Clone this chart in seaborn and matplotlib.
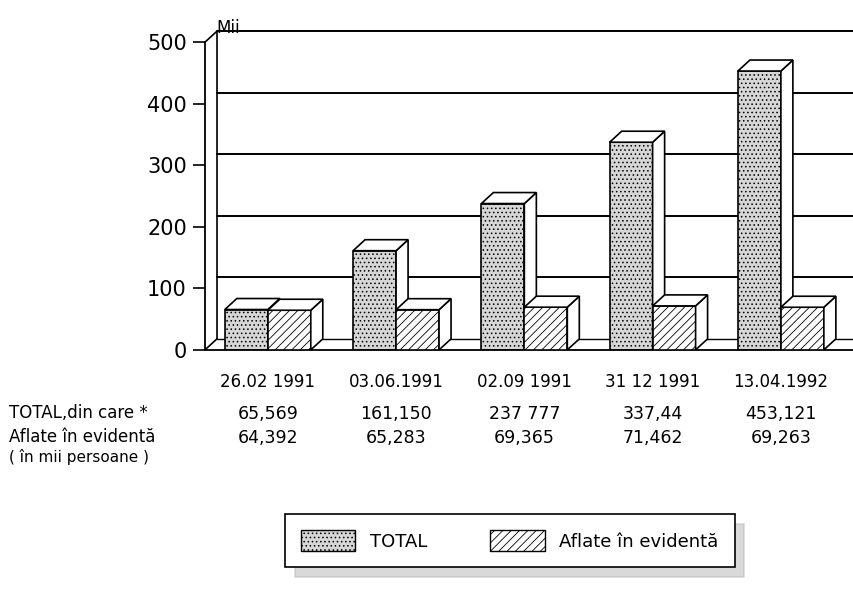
import numpy as np
import pandas as pd
import seaborn as sns
import matplotlib.pyplot as plt
from matplotlib.patches import Polygon, Patch

sns.set_theme(style="white")
plt.rcParams["font.family"] = ["DejaVu Sans"]
plt.rcParams["text.color"] = "black"
plt.rcParams["hatch.linewidth"] = 0.6

# ---------------------------------------------------------------------------
# data (thousands of persons)
# ---------------------------------------------------------------------------
dates = ["26.02 1991", "03.06.1991", "02.09 1991", "31 12 1991", "13.04.1992"]
total = [65.569, 161.150, 237.777, 337.44, 453.121]
aflate = [64.392, 65.283, 69.365, 71.462, 69.263]
total_txt = ["65,569", "161,150", "237 777", "337,44", "453,121"]
aflate_txt = ["64,392", "65,283", "69,365", "71,462", "69,263"]
series = ["TOTAL", "Aflate în evidentă"]
yticks = [0, 100, 200, 300, 400, 500]

df = pd.DataFrame({
    "data": dates * 2,
    "mii": total + aflate,
    "serie": [series[0]] * len(dates) + [series[1]] * len(dates),
})

# ---------------------------------------------------------------------------
# figure
# ---------------------------------------------------------------------------
fig = plt.figure(figsize=(8.54, 5.93), dpi=100)
ax = fig.add_axes([0.240, 0.410, 0.760, 0.5396])

sns.barplot(
    data=df, x="data", y="mii", hue="serie", ax=ax,
    palette={series[0]: "#d6d6d6", series[1]: "white"},
    width=0.67, edgecolor="black", linewidth=1.2, legend=False,
)

xmin, xmax = -0.49, 4.57
ymin, ymax = 0, 520
ax.set_xlim(xmin, xmax)
ax.set_ylim(ymin, ymax)

# depth of the pseudo-3D look, 12 px right / 11 px up
dx = 12 * (xmax - xmin) / ax.bbox.width
dy = 11 * (ymax - ymin) / ax.bbox.height

# back wall grid, wall edge and floor
for v in yticks[1:]:
    ax.plot([xmin + dx, xmax], [v + dy, v + dy], color="black", lw=1.4,
            zorder=1, clip_on=False)
ax.plot([xmin + dx, xmax], [dy, dy], color="black", lw=1.0, zorder=1)
ax.plot([xmin + dx, xmin + dx], [dy, 500 + dy], color="black", lw=1.2, zorder=1)
ax.plot([xmin, xmin + dx], [500, 500 + dy], color="black", lw=1.2, zorder=1,
        clip_on=False)
ax.plot([xmin, xmin + dx], [0, dy], color="black", lw=1.2, zorder=1)

# top and side faces of each bar
for k, (cont, hatch) in enumerate(zip(ax.containers, ["....", "////"])):
    for bar in cont:
        bar.set_hatch(hatch)
        bar.set_zorder(2 + k)
        x0, w, h = bar.get_x(), bar.get_width(), bar.get_height()
        x1 = x0 + w
        top = Polygon([[x0, h], [x1, h], [x1 + dx, h + dy], [x0 + dx, h + dy]],
                      closed=True, facecolor="white", edgecolor="black",
                      lw=1.2, zorder=2 + k)
        side = Polygon([[x1, 0], [x1 + dx, dy], [x1 + dx, h + dy], [x1, h]],
                       closed=True, facecolor="white", edgecolor="black",
                       lw=1.2, zorder=2 + k)
        ax.add_patch(side)
        ax.add_patch(top)

# axes styling
for s in ["top", "right"]:
    ax.spines[s].set_visible(False)
ax.spines["left"].set_bounds(0, 500)
for s in ["left", "bottom"]:
    ax.spines[s].set_linewidth(1.3)
    ax.spines[s].set_color("black")
ax.set_yticks(yticks)
ax.tick_params(axis="y", direction="out", length=9, width=1.2, pad=4,
               labelsize=15, left=True, colors="black")
ax.tick_params(axis="x", length=0, pad=17, labelsize=12, colors="black")
ax.set_xlabel("")
ax.set_ylabel("")

# value rows under the dates
for i in range(len(dates)):
    ax.text(i, -0.200, total_txt[i], transform=ax.get_xaxis_transform(),
            ha="center", va="center", fontsize=12.5)
    ax.text(i, -0.274, aflate_txt[i], transform=ax.get_xaxis_transform(),
            ha="center", va="center", fontsize=12.5)

fig.text(0.010, 0.3035, "TOTAL,din care *", ha="left", va="center", fontsize=12)
fig.text(0.010, 0.263, "Aflate în evidentă", ha="left", va="center", fontsize=12)
fig.text(0.010, 0.229, "( în mii persoane )", ha="left", va="center", fontsize=11)
fig.text(0.253, 0.953, "Mii", ha="left", va="center", fontsize=12)

handles = [
    Patch(facecolor="#d6d6d6", edgecolor="black", hatch="....", label=series[0]),
    Patch(facecolor="white", edgecolor="black", hatch="////", label=series[1]),
]
leg = fig.legend(
    handles=handles, loc="center", bbox_to_anchor=(0.597, 0.088), ncol=2,
    fontsize=13, handlelength=3.0, handleheight=1.4, columnspacing=3.5,
    borderpad=0.9, fancybox=False, framealpha=1, edgecolor="black",
    shadow={"ox": 7, "oy": -7, "color": "#b4b4b4"},
)
leg.get_frame().set_linewidth(1.2)

fig.savefig("out.png", dpi=100)
